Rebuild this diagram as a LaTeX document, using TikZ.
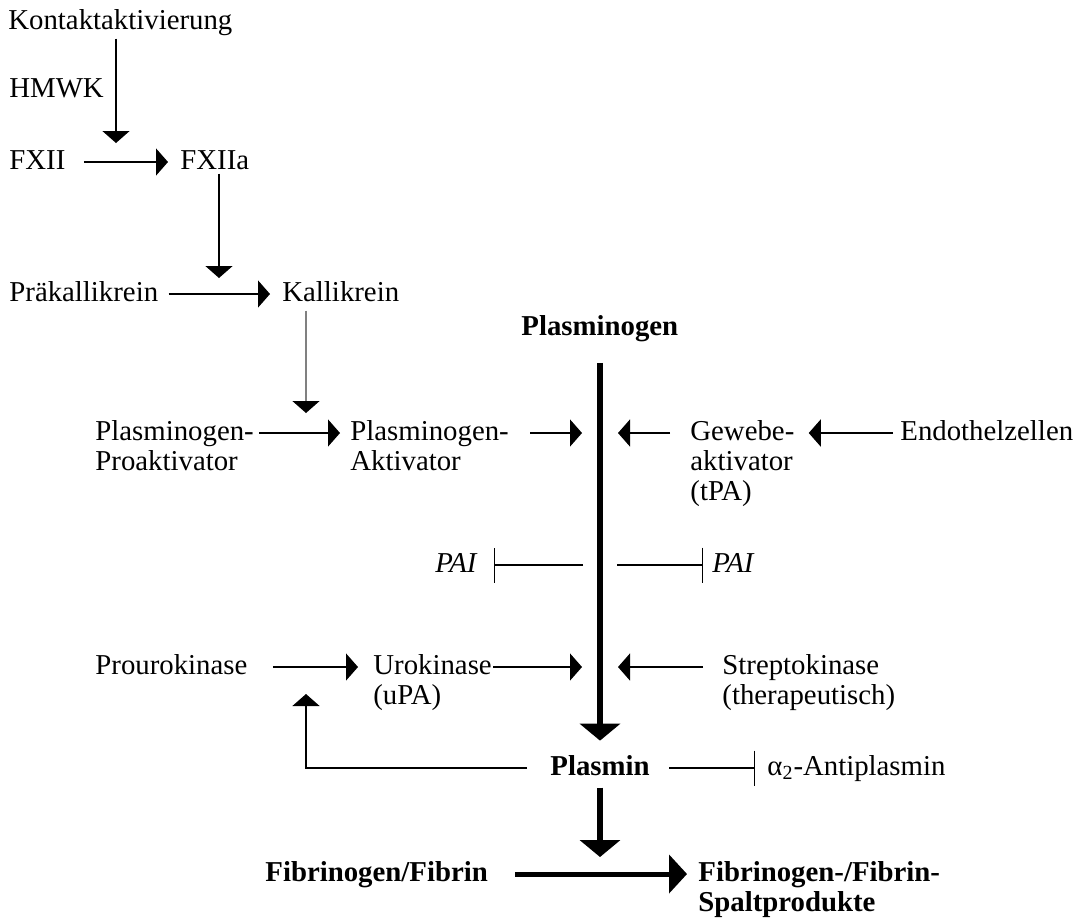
\documentclass[tikz,border=0pt]{standalone}
\usepackage{fontspec}
\setmainfont{Liberation Serif}
\usetikzlibrary{arrows.meta}

\begin{document}
\begin{tikzpicture}[
  x=0.5pt, y=-0.5pt,
  node font=\fontsize{14.4}{15}\selectfont,
  lbl/.style = {anchor=base west, inner sep=0pt, align=left},
  arr/.style = {-{Triangle[length=6pt,width=13.5pt]}, line width=0.7pt},
  thk/.style = {-{Triangle[length=8.5pt,width=20pt]}, line width=3pt},
  fat/.style = {-{Triangle[length=9pt,width=19pt]}, line width=2.5pt},
  inh/.style = {-{Bar[width=17.5pt]}, line width=0.7pt}
]
\useasboundingbox (0,0) rectangle (1085,922);

% Kontaktphase
\node[lbl] (kontakt) at (8,29)   {Kontaktaktivierung};
\node[lbl] (hmwk)    at (9,97)   {HMWK};
\node[lbl] (fxii)    at (9,169)  {FXII};
\node[lbl] (fxiia)   at (180,169) {FXIIa};
\node[lbl] (prae)    at (9,301)  {Präkallikrein};
\node[lbl] (kalli)   at (282,301) {Kallikrein};
\node[lbl] (proakt)  at (95,470) {Plasminogen-\\Proaktivator};
\node[lbl] (plgakt)  at (350,470) {Plasminogen-\\Aktivator};

% Fibrinolyse (mehrzeilige Knoten: base = letzte Zeile)
\node[lbl, font=\bfseries] (plg) at (521,335) {Plasminogen};
\node[lbl] (tpa)     at (690,500) {Gewebe-\\aktivator\\(tPA)};
\node[lbl] (endo)    at (900,440) {Endothelzellen};
\node[lbl, font=\itshape] (pail) at (435,572) {PAI};
\node[lbl, font=\itshape] (pair) at (712,572) {PAI};
\node[lbl] (prouro)  at (95,674) {Prourokinase};
\node[lbl] (uro)     at (373,704) {Urokinase\\(uPA)};
\node[lbl] (strepto) at (722,704) {Streptokinase\\(therapeutisch)};
\node[lbl, font=\bfseries] (plm) at (550,775) {Plasmin};
\node[lbl] (anti)    at (767,775) {α\textsubscript{2}-Antiplasmin};
\node[lbl, font=\bfseries] (fib) at (265,881) {Fibrinogen/Fibrin};
\node[lbl, font=\bfseries] (fsp) at (698,911) {Fibrinogen-/Fibrin-\\Spaltprodukte};

% Zielpunkte
\coordinate (k1) at (116,143);
\coordinate (k2) at (219,278);
\coordinate (k3) at (306,413);
\coordinate (k4) at (306,694);
\coordinate (k5) at (600,857);
\coordinate (a1) at (600,433);
\coordinate (a2) at (600,565);
\coordinate (a3) at (600,667);

\draw[arr, shorten <=1.5pt] (kontakt.south -| k1) -- (k1);
\draw[arr] ([xshift=9pt,yshift=3.5pt]fxii.base east) -- ([xshift=-6pt,yshift=3.5pt]fxiia.base west);
\draw[arr, shorten <=2pt] (fxiia.south -| k2) -- (k2);
\draw[arr] ([xshift=5pt,yshift=3.5pt]prae.base east) -- ([xshift=-6pt,yshift=3.5pt]kalli.base west);
\draw[arr, draw=gray, -{Triangle[length=6pt,width=13.5pt,black]}, shorten <=4.5pt] (kalli.south -| k3) -- (k3);
\draw[arr] ([xshift=2.5pt,yshift=18.5pt]proakt.base east) -- ([xshift=-5pt,yshift=18.5pt]plgakt.base west);
\draw[arr] ([xshift=10.5pt]plgakt.base east |- a1) -- ([xshift=-9pt]a1);
\draw[arr] ([xshift=-10pt,yshift=33.5pt]tpa.base west) -- ([xshift=9pt]a1);
\draw[arr] ([xshift=-3.5pt,yshift=3.5pt]endo.base west) -- ([xshift=7pt,yshift=33.5pt]tpa.base east);
\draw[inh] ([xshift=-8.5pt]a2) -- ([xshift=8.5pt]pail.east |- a2);
\draw[inh] ([xshift=8.5pt]a2) -- ([xshift=-4.5pt]pair.west |- a2);
\draw[arr] ([xshift=12.5pt,yshift=3.5pt]prouro.base east) -- ([xshift=-7.5pt,yshift=18.5pt]uro.base west);
\draw[arr] ([xshift=0.5pt,yshift=18.5pt]uro.base east) -- ([xshift=-9pt]a3);
\draw[arr] ([xshift=-9.5pt,yshift=18.5pt]strepto.base west) -- ([xshift=9pt]a3);
\draw[thk, shorten <=10.5pt, shorten >=7pt] (plg.south -| a1) -- (plm.north -| a1);
\draw[arr] ([xshift=-11.5pt,yshift=3.5pt]plm.base west) -| (k4);
\draw[inh] ([xshift=9.5pt,yshift=3.5pt]plm.base east) -- ([xshift=-6pt,yshift=3.5pt]anti.base west);
\draw[thk, shorten <=6pt] (plm.south -| a1) -- (k5);
\draw[fat] ([xshift=13.5pt,yshift=3.5pt]fib.base east) -- ([xshift=-5.5pt,yshift=18.5pt]fsp.base west);

\end{tikzpicture}
\end{document}
